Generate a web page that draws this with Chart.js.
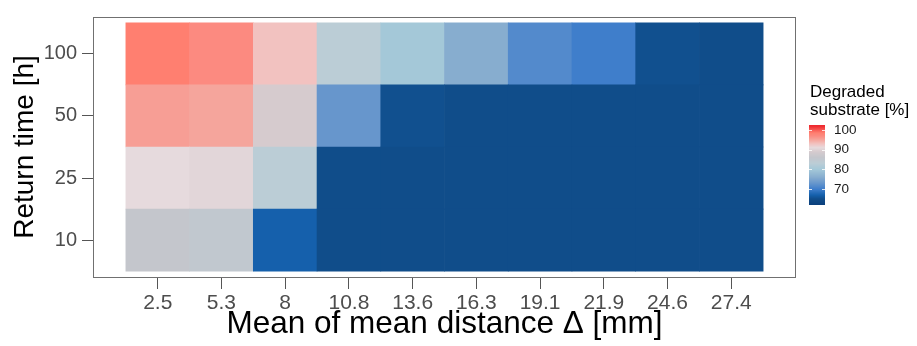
<!DOCTYPE html>
<html>
<head>
<meta charset="utf-8">
<script src="https://cdn.jsdelivr.net/npm/chart.js@4.4.1/dist/chart.umd.min.js"></script>
<style>
html, body { margin: 0; padding: 0; background: #fff; }
</style>
</head>
<body>
<canvas id="heatChart" width="917" height="346"></canvas>
<script>
const distances = ["2.5", "5.3", "8", "10.8", "13.6", "16.3", "19.1", "21.9", "24.6", "27.4"];
const returnTimes = ["10", "25", "50", "100"];

// degraded substrate [%] per return time row
const degraded10 = [86, 85, 67, 65, 65, 65, 65, 65, 65, 65];
const degraded25 = [91, 90.5, 83, 65, 65, 65, 65, 65, 65, 65];
const degraded50 = [95.5, 95, 89, 73, 65.3, 65, 65, 65, 65, 65];
const degraded100 = [98.5, 97, 93, 83, 80, 76, 71.5, 70, 65.3, 65];

const legendTicks = [100, 90, 80, 70];

const FONT = "'Liberation Sans', Arial, sans-serif";

// colour ramp of the fill scale
const stops = [
    [62, "#0B3F7C"], [65, "#104D8A"], [67, "#1560AC"], [70, "#3F7ECB"],
    [73, "#6796CC"], [76, "#87ADCF"], [80, "#A4C8D8"], [83, "#BBCDD6"],
    [86, "#C4C6CC"], [89, "#D6CBCE"], [91, "#E6DADD"], [93, "#F2C2C0"],
    [95, "#F5A59C"], [97, "#FC8A80"], [98.5, "#FF7F70"], [102, "#EE2A30"]
];

function hex(c) {
    return [1, 3, 5].map(i => parseInt(c.substr(i, 2), 16));
}

function colorFor(v) {
    if (v <= stops[0][0]) return stops[0][1];
    for (let i = 1; i < stops.length; i++) {
        if (v <= stops[i][0]) {
            const [v0, c0] = stops[i - 1];
            const [v1, c1] = stops[i];
            const t = (v - v0) / (v1 - v0);
            const a = hex(c0), b = hex(c1);
            const m = a.map((x, k) => Math.round(x + (b[k] - x) * t));
            return "rgb(" + m.join(",") + ")";
        }
    }
    return stops[stops.length - 1][1];
}

const rows = [degraded10, degraded25, degraded50, degraded100];

const frame = {
    id: "frame",
    afterDraw(chart) {
        const { ctx, chartArea: a } = chart;
        ctx.save();
        ctx.strokeStyle = "#707070";
        ctx.lineWidth = 1;
        ctx.strokeRect(Math.floor(a.left) - 0.5, Math.floor(a.top) + 0.5,
            Math.round(a.right - a.left) + 1, Math.round(a.bottom - a.top));
        ctx.restore();
    }
};

const colorLegend = {
    id: "colorLegend",
    afterDraw(chart) {
        const ctx = chart.ctx;
        const x0 = 809, w = 16, top = 125, bottom = 205;
        const yOf = v => 130 + (100 - v) * 1.97;
        ctx.save();
        for (let y = top; y < bottom; y++) {
            const v = 100 - (y + 0.5 - 130) / 1.97;
            ctx.fillStyle = colorFor(v);
            ctx.fillRect(x0, y, w, 1);
        }
        ctx.strokeStyle = "rgba(255,255,255,0.8)";
        ctx.lineWidth = 1;
        legendTicks.forEach(t => {
            const y = Math.round(yOf(t)) + 0.5;
            ctx.beginPath();
            ctx.moveTo(x0, y); ctx.lineTo(x0 + 3, y);
            ctx.moveTo(x0 + w - 3, y); ctx.lineTo(x0 + w, y);
            ctx.stroke();
        });
        ctx.fillStyle = "#1A1A1A";
        ctx.font = "13.5px " + FONT;
        ctx.textBaseline = "middle";
        ctx.textAlign = "left";
        legendTicks.forEach(t => ctx.fillText(String(t), 834, yOf(t)));
        ctx.fillStyle = "#000";
        ctx.font = "17px " + FONT;
        ctx.textBaseline = "alphabetic";
        ctx.fillText("Degraded", 810, 97);
        ctx.fillText("substrate [%]", 810, 115);
        ctx.restore();
    }
};

new Chart("heatChart", {
    type: "bar",
    data: {
        datasets: rows.map((row, i) => ({
            label: returnTimes[i],
            data: row.map((v, k) => ({ x: k, y: 1 })),
            backgroundColor: row.map(colorFor),
            borderWidth: 0,
            barPercentage: 1,
            categoryPercentage: 1
        }))
    },
    options: {
        responsive: false,
        devicePixelRatio: 1,
        animation: false,
        layout: { padding: { left: 0, top: 9, right: 122, bottom: 0 } },
        plugins: {
            legend: { display: false },
            tooltip: { enabled: false }
        },
        scales: {
            x: {
                type: "linear",
                stacked: true,
                offset: false,
                min: -1,
                max: distances.length,
                afterBuildTicks: s => { s.ticks = distances.map((d, i) => ({ value: i })); },
                grid: { offset: false, drawOnChartArea: false, tickLength: 12, tickColor: "#555" },
                border: { display: false },
                ticks: {
                    color: "#4D4D4D",
                    font: { size: 21, family: FONT },
                    padding: 2,
                    maxRotation: 0,
                    autoSkip: false,
                    callback: (v, i) => distances[i]
                },
                title: {
                    display: true,
                    text: "Mean of mean distance Δ [mm]",
                    color: "#000",
                    font: { size: 31.5, family: FONT },
                    padding: { top: 0, bottom: 3 }
                },
                afterFit: s => { s.height = 69; }
            },
            y: {
                stacked: true,
                min: -0.094,
                max: 4.094,
                afterBuildTicks: s => { s.ticks = returnTimes.map((t, i) => ({ value: i + 0.5 })); },
                grid: { drawOnChartArea: false, tickLength: 12, tickColor: "#555" },
                border: { display: false },
                ticks: {
                    color: "#4D4D4D",
                    font: { size: 20, family: FONT },
                    padding: 5,
                    autoSkip: false,
                    callback: (v, i) => returnTimes[i]
                },
                title: {
                    display: true,
                    text: "Return time [h]",
                    color: "#000",
                    font: { size: 28, family: FONT },
                    padding: { top: 8, bottom: 0 }
                },
                afterFit: s => { s.width = 94; }
            }
        }
    },
    plugins: [frame, colorLegend]
});
</script>
</body>
</html>
